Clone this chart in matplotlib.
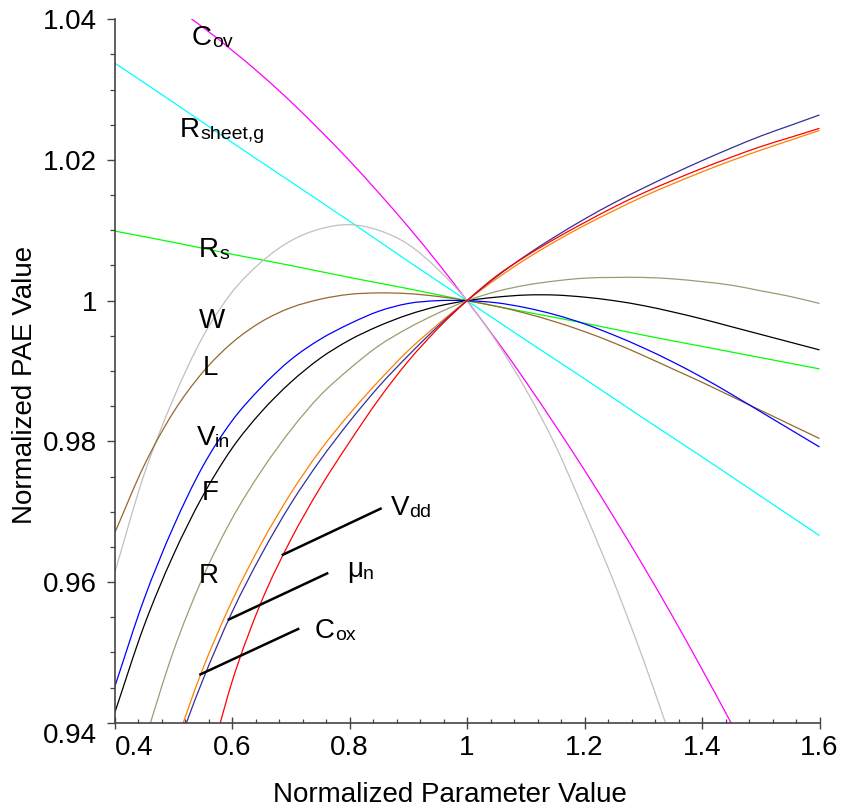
import matplotlib
matplotlib.use('Agg')
import matplotlib.pyplot as plt
from matplotlib.ticker import FixedLocator, MultipleLocator
from matplotlib.path import Path
from matplotlib.patches import PathPatch

plt.rcParams['font.family'] = ['Liberation Sans', 'DejaVu Sans']

# ---------------- data ----------------
x_full = [0.40, 0.45, 0.50, 0.55, 0.60, 0.65, 0.70, 0.75, 0.80, 0.85, 0.90, 0.95,
          1.00, 1.05, 1.10, 1.15, 1.20, 1.25, 1.30, 1.35, 1.40, 1.45, 1.50, 1.55, 1.60]
x_coarse = [0.4, 0.5, 0.6, 0.7, 0.8, 0.9, 1.0, 1.1, 1.2, 1.3, 1.4, 1.5, 1.6]

x_cov = [0.50, 0.55, 0.60, 0.65, 0.70, 0.75, 0.80, 0.85, 0.90, 0.95, 1.00,
         1.05, 1.10, 1.15, 1.20, 1.25, 1.30, 1.35, 1.40, 1.45, 1.50]
y_cov = [1.0419, 1.0389, 1.0356, 1.0321, 1.0283, 1.0242, 1.0199, 1.0153, 1.0105, 1.0054, 1.0,
         0.9944, 0.9885, 0.9823, 0.9759, 0.9692, 0.9623, 0.9551, 0.9476, 0.9399, 0.9319]

y_rsheet = [1.0338, 1.0282, 1.0225, 1.0169, 1.0113, 1.0056, 1.0, 0.9944, 0.9889, 0.9833, 0.9778, 0.9722, 0.9666]
y_rs = [1.0099, 1.0083, 1.0066, 1.0050, 1.0033, 1.0017, 1.0, 0.9984, 0.9968, 0.9951, 0.9935, 0.9919, 0.9903]

x_w = [0.40, 0.45, 0.50, 0.55, 0.60, 0.65, 0.70, 0.75, 0.80, 0.85, 0.90, 0.95,
       1.00, 1.05, 1.10, 1.15, 1.20, 1.25, 1.30, 1.35]
y_w = [0.9612, 0.9752, 0.9860, 0.9948, 1.0012, 1.0055, 1.0085, 1.0102, 1.0108, 1.0100, 1.0080, 1.0045,
       1.0, 0.9942, 0.9874, 0.9795, 0.9700, 0.9600, 0.9490, 0.9370]

y_l = [0.9669, 0.9765, 0.9841, 0.9898, 0.9940, 0.9970, 0.9990, 1.0002, 1.0009, 1.0011, 1.0010, 1.0006,
       1.0, 0.9992, 0.9982, 0.9970, 0.9956, 0.9940, 0.9922, 0.9903, 0.9884, 0.9864, 0.9844, 0.9824, 0.9804]

y_vin = [0.9450, 0.9575, 0.9678, 0.9764, 0.9829, 0.9877, 0.9916, 0.9945, 0.9967, 0.9985, 0.9996, 1.0000,
         1.0, 0.9997, 0.9990, 0.9980, 0.9967, 0.9951, 0.9933, 0.9913, 0.9891, 0.9867, 0.9842, 0.9817, 0.9792]

y_f = [0.9413, 0.9537, 0.9638, 0.9722, 0.9790, 0.9842, 0.9884, 0.9918, 0.9944, 0.9964, 0.9980, 0.9992,
       1.0, 1.0005, 1.0008, 1.0008, 1.0005, 1.0000, 0.9993, 0.9984, 0.9974, 0.9963, 0.9952, 0.9941, 0.9930]

x_r = x_full[1:]
y_r = [0.9370, 0.9501, 0.9606, 0.9690, 0.9758, 0.9816, 0.9865, 0.9903, 0.9936, 0.9961, 0.9982,
       1.0, 1.0013, 1.0022, 1.0028, 1.0032, 1.0033, 1.0033, 1.0031, 1.0027, 1.0022, 1.0014, 1.0006, 0.9996]

x_cox = x_full[2:]
y_cox = [0.9360, 0.9476, 0.9573, 0.9655, 0.9726, 0.9787, 0.9839, 0.9886, 0.9929, 0.9966,
         1.0, 1.0031, 1.0059, 1.0084, 1.0107, 1.0128, 1.0148, 1.0166, 1.0183, 1.0199, 1.0214, 1.0228, 1.0242]

x_mun = x_full[2:]
y_mun = [0.9350, 0.9460, 0.9557, 0.9639, 0.9711, 0.9773, 0.9828, 0.9878, 0.9922, 0.9963,
         1.0, 1.0034, 1.0064, 1.0091, 1.0116, 1.0139, 1.0160, 1.0180, 1.0199, 1.0217, 1.0234, 1.0249, 1.0264]

x_vdd = x_full[3:]
y_vdd = [0.9305, 0.9458, 0.9572, 0.9660, 0.9734, 0.9799, 0.9860, 0.9914, 0.9960,
         1.0, 1.0035, 1.0063, 1.0088, 1.0111, 1.0133, 1.0153, 1.0171, 1.0188, 1.0204, 1.0219, 1.0232, 1.0245]

x_ticks = [0.4, 0.6, 0.8, 1.0, 1.2, 1.4, 1.6]
x_ticklabels = ['0.4', '0.6', '0.8', '1', '1.2', '1.4', '1.6']
y_ticks = [0.94, 0.96, 0.98, 1.00, 1.02, 1.04]
y_ticklabels = ['0.94', '0.96', '0.98', '1', '1.02', '1.04']

# ---------------- figure ----------------
W, H = 841, 809
fig = plt.figure(figsize=(W / 100, H / 100), dpi=100)
ax = fig.add_axes([114.5 / W, (H - 722.7) / H, (819.5 - 114.5) / W, (722.7 - 19.3) / H])


def smooth_curve(xs, ys, color, lw=0.9):
    """Draw a smooth curve through the given points (cubic Hermite Bezier path)."""
    n = len(xs)
    m = []
    for i in range(n):
        if i == 0:
            m.append((ys[1] - ys[0]) / (xs[1] - xs[0]))
        elif i == n - 1:
            m.append((ys[-1] - ys[-2]) / (xs[-1] - xs[-2]))
        else:
            m.append((ys[i + 1] - ys[i - 1]) / (xs[i + 1] - xs[i - 1]))
    verts = [(xs[0], ys[0])]
    codes = [Path.MOVETO]
    for i in range(n - 1):
        h = xs[i + 1] - xs[i]
        verts += [(xs[i] + h / 3, ys[i] + m[i] * h / 3),
                  (xs[i + 1] - h / 3, ys[i + 1] - m[i + 1] * h / 3),
                  (xs[i + 1], ys[i + 1])]
        codes += [Path.CURVE4] * 3
    patch = PathPatch(Path(verts, codes), facecolor='none', edgecolor=color,
                      lw=lw, transform=ax.transData)
    ax.add_patch(patch)


series = [
    (x_cov, y_cov, '#FF00FF'),
    (x_coarse, y_rsheet, '#00FFFF'),
    (x_coarse, y_rs, '#00FF00'),
    (x_w, y_w, '#C0C0C0'),
    (x_full, y_l, '#96682C'),
    (x_full, y_vin, '#0000FF'),
    (x_full, y_f, '#000000'),
    (x_r, y_r, '#9C9C70'),
    (x_cox, y_cox, '#FF8000'),
    (x_mun, y_mun, '#30309A'),
    (x_vdd, y_vdd, '#FF0000'),
]
for xs, ys, c in series:
    smooth_curve(xs, ys, c)

ax.set_xlim(0.4, 1.6)
ax.set_ylim(0.94, 1.04)

for s in ['top', 'right']:
    ax.spines[s].set_visible(False)
for s in ['left', 'bottom']:
    ax.spines[s].set_color('#444444')
    ax.spines[s].set_linewidth(1.2)

ax.xaxis.set_major_locator(FixedLocator(x_ticks))
ax.set_xticklabels(x_ticklabels)
ax.yaxis.set_major_locator(FixedLocator(y_ticks))
ax.set_yticklabels(y_ticklabels)
ax.xaxis.set_minor_locator(MultipleLocator(0.04))
ax.yaxis.set_minor_locator(MultipleLocator(0.005))

ax.tick_params(axis='x', which='major', direction='inout', length=8, width=1.0,
               color='#444444', labelsize=20, pad=4.5)
ax.tick_params(axis='x', which='minor', direction='in', length=3, width=0.9, color='#444444')
ax.tick_params(axis='y', which='major', direction='out', length=6, width=1.0,
               color='#444444', labelsize=20, pad=6.5)
ax.tick_params(axis='y', which='minor', direction='out', length=3.5, width=0.9, color='#444444')

xt = ax.xaxis.get_major_ticks()
xt[0].label1.set_horizontalalignment('left')
yt = ax.yaxis.get_major_ticks()
yt[0].label1.set_verticalalignment('top')

# ---------------- labels ----------------
def curve_label(x, y, main, sub):
    t = ax.text(x, y, main, fontsize=20, ha='left', va='baseline')
    if sub:
        ax.annotate(sub, xy=(1, 0), xycoords=t, fontsize=14, ha='left', va='bottom')

curve_label(0.5319, 1.03635, 'C', 'ov')
curve_label(0.5115, 1.02331, 'R', 'sheet,g')
curve_label(0.5438, 1.00625, 'R', 's')
curve_label(0.5438, 0.99607, 'W', None)
curve_label(0.5501, 0.98943, 'L', None)
curve_label(0.5399, 0.97948, 'V', 'in')
curve_label(0.5484, 0.97166, 'F', None)
curve_label(0.5438, 0.95982, 'R', None)
curve_label(0.8706, 0.96953, 'V', 'dd')
curve_label(0.7957, 0.96076, 'μ', 'n')
curve_label(0.7413, 0.95200, 'C', 'ox')

leaders = [
    ([0.6846, 0.8548], [0.9638, 0.9705]),
    ([0.5927, 0.7639], [0.9546, 0.9613]),
    ([0.5444, 0.7146], [0.9468, 0.9534]),
]
for lx, ly in leaders:
    ax.plot(lx, ly, color='black', lw=1.8, solid_capstyle='butt')

fig.text(450 / W, 1 - 802 / H, 'Normalized Parameter Value', fontsize=20,
         ha='center', va='baseline')
fig.text(25 / W, 1 - 384.5 / H, 'Normalized PAE Value', fontsize=20,
         ha='center', va='center', rotation=90)

fig.savefig('out.png', dpi=100)
